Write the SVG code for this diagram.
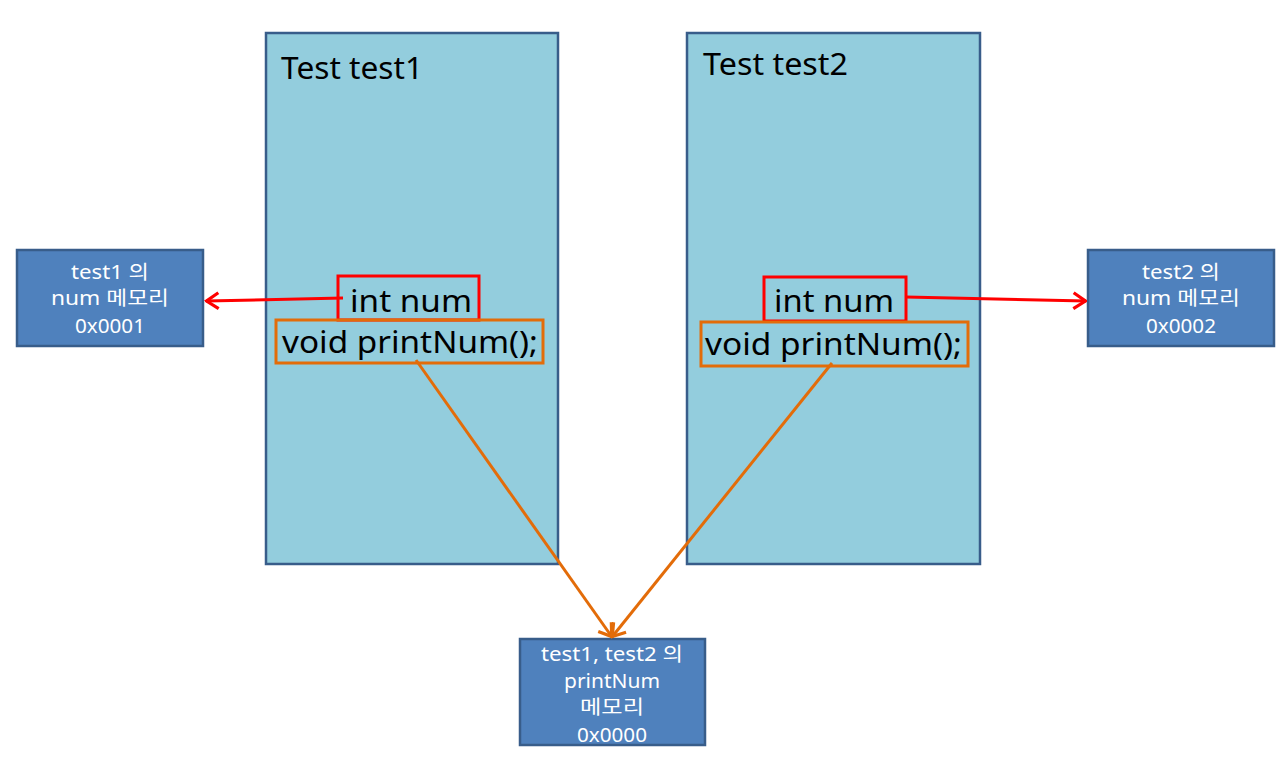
<svg xmlns="http://www.w3.org/2000/svg" width="1280" height="772" viewBox="0 0 1280 772">
<defs>
<style>
.obj{fill:#93CDDD;stroke:#385D8A;stroke-width:2.5}
.mem{fill:#4F81BD;stroke:#385D8A;stroke-width:2.5}
.red{fill:none;stroke:#FF0000;stroke-width:3}
.org{fill:none;stroke:#E36C09;stroke-width:3}
.big{font-family:"Noto Sans","Noto Sans CJK KR",sans-serif;font-size:31px;fill:#000}
.small{font-family:"Noto Sans","Noto Sans CJK KR",sans-serif;font-size:19px;fill:#FFFFFF;text-anchor:middle}
</style>
<marker id="arR" viewBox="0 0 16 20" refX="14.5" refY="10" markerWidth="16" markerHeight="20" markerUnits="userSpaceOnUse" orient="auto">
<path d="M2,2 L14,10 L2,18" fill="none" stroke="#FF0000" stroke-width="3.2"/>
</marker>
<marker id="arO" viewBox="0 0 16 20" refX="14.5" refY="10" markerWidth="16" markerHeight="20" markerUnits="userSpaceOnUse" orient="auto">
<path d="M2,2 L14,10 L2,18" fill="none" stroke="#E36C09" stroke-width="3.2"/>
</marker>
</defs>
<rect width="1280" height="772" fill="#FFFFFF"/>
<g id="test1">
<rect class="obj" x="266" y="33" width="292" height="531"/>
<text class="big" x="281" y="79" textLength="142" lengthAdjust="spacingAndGlyphs">Test test1</text>
<rect class="red" x="338" y="276" width="141" height="44"/>
<text class="big" x="350" y="312" textLength="122" lengthAdjust="spacingAndGlyphs">int num</text>
<rect class="org" x="276" y="320" width="267" height="43"/>
<text class="big" x="282" y="353" textLength="256" lengthAdjust="spacingAndGlyphs">void printNum();</text>
</g>
<g id="test2">
<rect class="obj" x="687" y="33" width="293" height="531"/>
<text class="big" x="703" y="75" textLength="145" lengthAdjust="spacingAndGlyphs">Test test2</text>
<rect class="red" x="764" y="277" width="142" height="44"/>
<text class="big" x="774" y="312" textLength="120" lengthAdjust="spacingAndGlyphs">int num</text>
<rect class="org" x="701" y="322" width="267" height="44"/>
<text class="big" x="705" y="355" textLength="257" lengthAdjust="spacingAndGlyphs">void printNum();</text>
</g>
<g id="mem1">
<rect class="mem" x="17" y="250" width="186" height="96"/>
<text class="small" x="110" y="279" textLength="78" lengthAdjust="spacingAndGlyphs">test1 의</text>
<text class="small" x="110" y="305" textLength="118" lengthAdjust="spacingAndGlyphs">num 메모리</text>
<text class="small" x="110" y="333" textLength="70" lengthAdjust="spacingAndGlyphs">0x0001</text>
</g>
<g id="mem2">
<rect class="mem" x="1088" y="250" width="186" height="96"/>
<text class="small" x="1181" y="279" textLength="78" lengthAdjust="spacingAndGlyphs">test2 의</text>
<text class="small" x="1181" y="305" textLength="118" lengthAdjust="spacingAndGlyphs">num 메모리</text>
<text class="small" x="1181" y="333" textLength="70" lengthAdjust="spacingAndGlyphs">0x0002</text>
</g>
<g id="mem0">
<rect class="mem" x="520" y="639" width="185" height="106"/>
<text class="small" x="612" y="661" textLength="142" lengthAdjust="spacingAndGlyphs">test1, test2 의</text>
<text class="small" x="612" y="688" textLength="96" lengthAdjust="spacingAndGlyphs">printNum</text>
<text class="small" x="612" y="714" textLength="64" lengthAdjust="spacingAndGlyphs">메모리</text>
<text class="small" x="612" y="742" textLength="70" lengthAdjust="spacingAndGlyphs">0x0000</text>
</g>
<g id="connectors">
<path class="red" d="M343,298 L206,301" marker-end="url(#arR)"/>
<path class="red" d="M906,297 L1086,301" marker-end="url(#arR)"/>
<path class="org" d="M416,360 L612,637" marker-end="url(#arO)"/>
<path class="org" d="M832,363 L612,637" marker-end="url(#arO)"/>
</g>
</svg>
